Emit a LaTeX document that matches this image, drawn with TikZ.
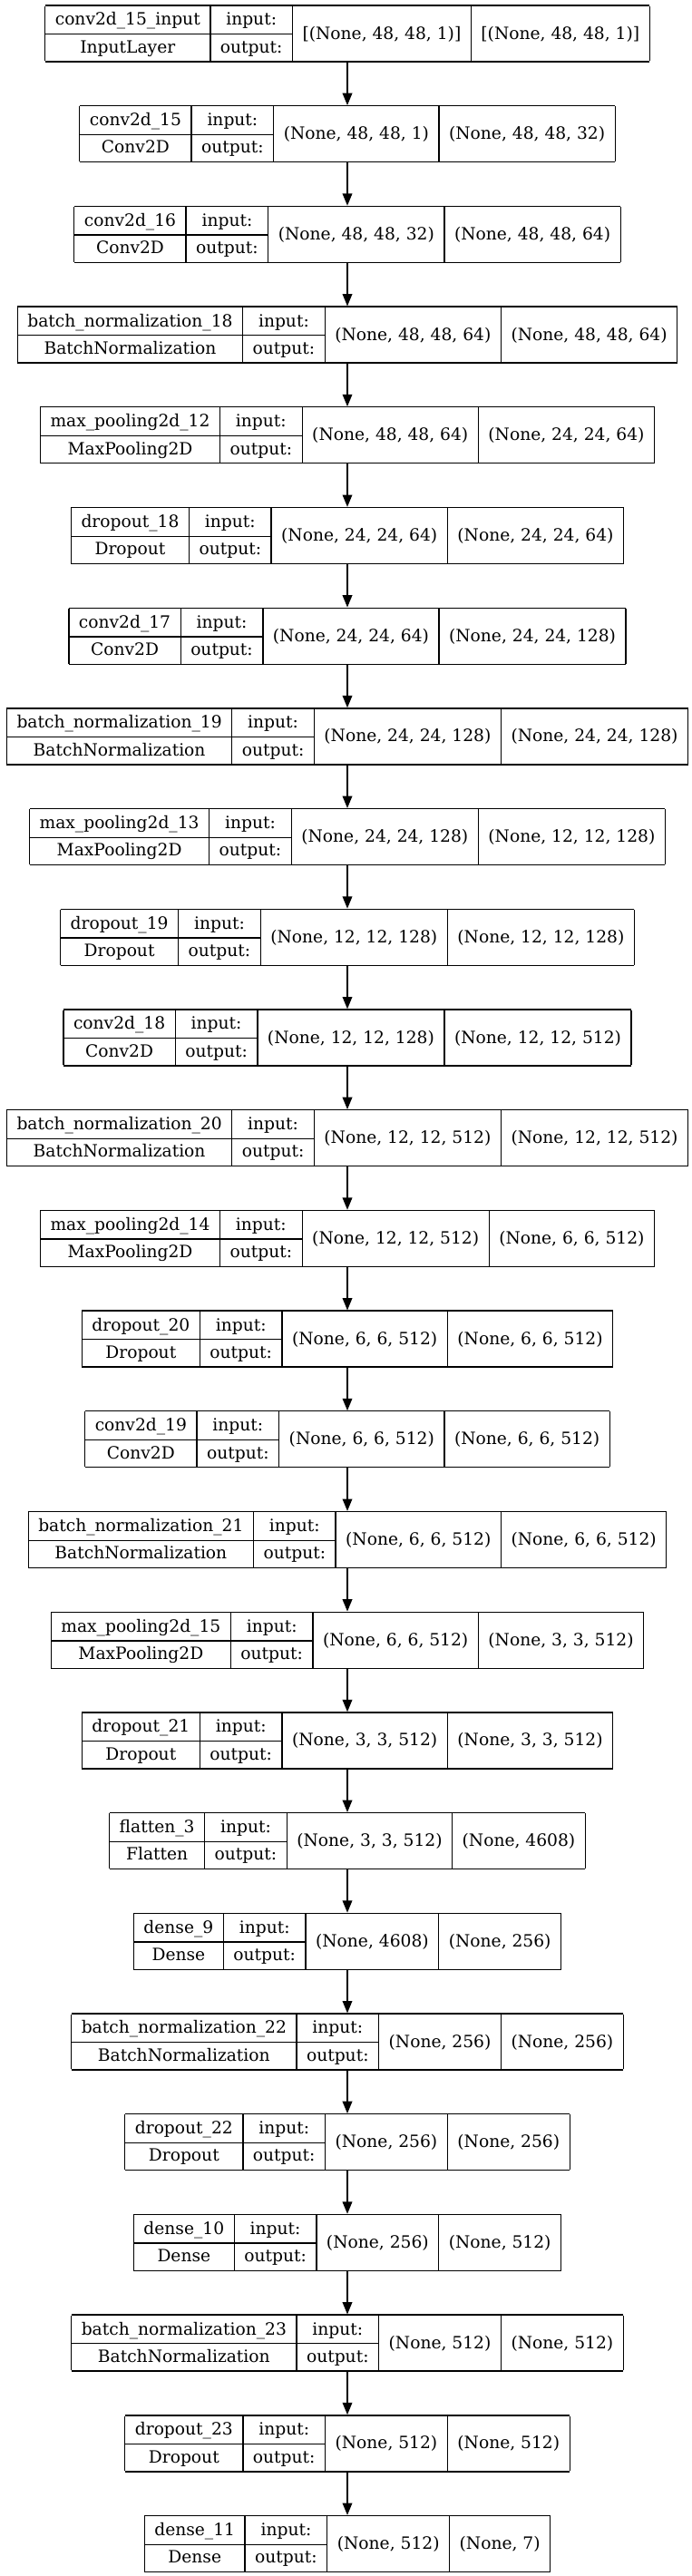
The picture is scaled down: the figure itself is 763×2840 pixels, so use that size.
\documentclass[tikz,border=0pt]{standalone}
\usepackage{fontspec}
\setmainfont{DejaVu Serif}
\usepackage{multirow}
\usetikzlibrary{positioning,arrows.meta}

\setlength\tabcolsep{8.3pt}
\setlength\arrayrulewidth{1pt}

\begin{document}
\begin{tikzpicture}[
    x=0.75pt, y=-0.75pt,
    font=\fontsize{14pt}{22.75pt}\selectfont,
    line join=round,
    >={Triangle[length=10pt,width=8pt]},
    layerbox/.style={inner sep=0pt, outer sep=0pt},
    flow/.style={->, line width=1pt}
]
\useasboundingbox (0,0) rectangle (763,2840);

% layers: index / name / class / input shape / output shape
\foreach \i/\lname/\lclass/\lin/\lout in {
    {1/conv2d\_15\_input/InputLayer/[(None, 48, 48, 1)]/[(None, 48, 48, 1)]},
    {2/conv2d\_15/Conv2D/(None, 48, 48, 1)/(None, 48, 48, 32)},
    {3/conv2d\_16/Conv2D/(None, 48, 48, 32)/(None, 48, 48, 64)},
    {4/batch\_normalization\_18/BatchNormalization/(None, 48, 48, 64)/(None, 48, 48, 64)},
    {5/max\_pooling2d\_12/MaxPooling2D/(None, 48, 48, 64)/(None, 24, 24, 64)},
    {6/dropout\_18/Dropout/(None, 24, 24, 64)/(None, 24, 24, 64)},
    {7/conv2d\_17/Conv2D/(None, 24, 24, 64)/(None, 24, 24, 128)},
    {8/batch\_normalization\_19/BatchNormalization/(None, 24, 24, 128)/(None, 24, 24, 128)},
    {9/max\_pooling2d\_13/MaxPooling2D/(None, 24, 24, 128)/(None, 12, 12, 128)},
    {10/dropout\_19/Dropout/(None, 12, 12, 128)/(None, 12, 12, 128)},
    {11/conv2d\_18/Conv2D/(None, 12, 12, 128)/(None, 12, 12, 512)},
    {12/batch\_normalization\_20/BatchNormalization/(None, 12, 12, 512)/(None, 12, 12, 512)},
    {13/max\_pooling2d\_14/MaxPooling2D/(None, 12, 12, 512)/(None, 6, 6, 512)},
    {14/dropout\_20/Dropout/(None, 6, 6, 512)/(None, 6, 6, 512)},
    {15/conv2d\_19/Conv2D/(None, 6, 6, 512)/(None, 6, 6, 512)},
    {16/batch\_normalization\_21/BatchNormalization/(None, 6, 6, 512)/(None, 6, 6, 512)},
    {17/max\_pooling2d\_15/MaxPooling2D/(None, 6, 6, 512)/(None, 3, 3, 512)},
    {18/dropout\_21/Dropout/(None, 3, 3, 512)/(None, 3, 3, 512)},
    {19/flatten\_3/Flatten/(None, 3, 3, 512)/(None, 4608)},
    {20/dense\_9/Dense/(None, 4608)/(None, 256)},
    {21/batch\_normalization\_22/BatchNormalization/(None, 256)/(None, 256)},
    {22/dropout\_22/Dropout/(None, 256)/(None, 256)},
    {23/dense\_10/Dense/(None, 256)/(None, 512)},
    {24/batch\_normalization\_23/BatchNormalization/(None, 512)/(None, 512)},
    {25/dropout\_23/Dropout/(None, 512)/(None, 512)},
    {26/dense\_11/Dense/(None, 512)/(None, 7)}}{
  \node[layerbox] (layer\i) at (383, {37+(\i-1)*110.7}) {%
    \begin{tabular}{|c|c|c|c|}\hline
      \lname & input: & \multirow{2}{*}{\lin} & \multirow{2}{*}{\lout}\\\cline{1-2}
      \lclass & output: & & \\\hline
    \end{tabular}};
}

% connectors
\foreach \j [count=\i from 2] in {1,...,25}
  \draw[flow] (layer\j.south) -- (layer\i.north);

\end{tikzpicture}
\end{document}
